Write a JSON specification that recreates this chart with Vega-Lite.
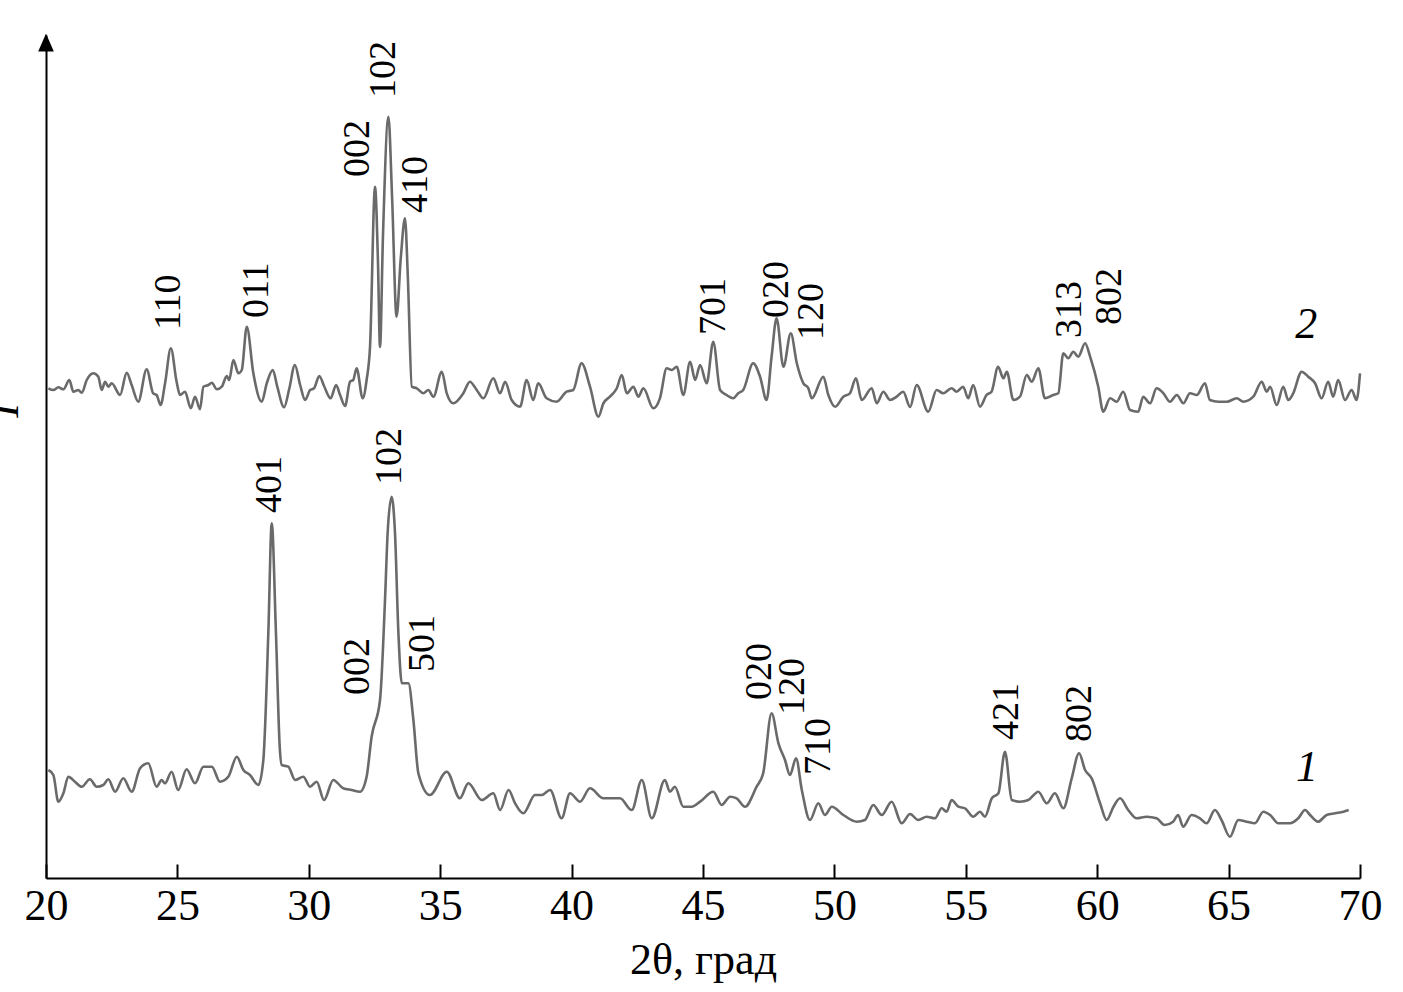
{
  "$schema": "https://vega.github.io/schema/vega-lite/v6.json",
  "width": 1314,
  "height": 843,
  "autosize": {"type": "none"},
  "padding": {"left": 46, "top": 35, "right": 43, "bottom": 114},
  "background": "white",
  "config": {
    "view": {"stroke": null},
    "font": "Liberation Serif",
    "axis": {"domainColor": "black", "domainWidth": 2, "grid": false, "labelFont": "Liberation Serif", "titleFont": "Liberation Serif", "labelColor": "black", "titleColor": "black", "titleFontWeight": "normal"}
  },
  "datasets": {
    "curves": [
      {"s":2,"x":20.09,"y":489.7},{"s":2,"x":20.28,"y":488},{"s":2,"x":20.47,"y":490.7},{"s":2,"x":20.66,"y":488.7},{"s":2,"x":20.89,"y":498},{"s":2,"x":21.04,"y":486.3},{"s":2,"x":21.23,"y":488},{"s":2,"x":21.36,"y":485.3},{"s":2,"x":21.55,"y":498},{"s":2,"x":21.8,"y":504.7},{"s":2,"x":21.99,"y":501.3},{"s":2,"x":22.12,"y":488},{"s":2,"x":22.25,"y":496.3},{"s":2,"x":22.37,"y":491.3},{"s":2,"x":22.5,"y":494.7},{"s":2,"x":22.82,"y":483},{"s":2,"x":23.07,"y":505.3},{"s":2,"x":23.26,"y":493},{"s":2,"x":23.51,"y":476.3},{"s":2,"x":23.83,"y":508.7},{"s":2,"x":24.08,"y":484.7},{"s":2,"x":24.21,"y":483},{"s":2,"x":24.36,"y":473},{"s":2,"x":24.53,"y":494.7},{"s":2,"x":24.75,"y":529.7},{"s":2,"x":24.97,"y":496.3},{"s":2,"x":25.1,"y":483},{"s":2,"x":25.29,"y":486.3},{"s":2,"x":25.51,"y":469.7},{"s":2,"x":25.67,"y":481.3},{"s":2,"x":25.86,"y":468.7},{"s":2,"x":25.99,"y":491.3},{"s":2,"x":26.18,"y":493},{"s":2,"x":26.31,"y":495.3},{"s":2,"x":26.5,"y":488.7},{"s":2,"x":26.69,"y":491.3},{"s":2,"x":26.88,"y":502},{"s":2,"x":26.97,"y":498},{"s":2,"x":27.13,"y":518},{"s":2,"x":27.32,"y":504.7},{"s":2,"x":27.45,"y":508},{"s":2,"x":27.64,"y":551.3},{"s":2,"x":27.89,"y":504.7},{"s":2,"x":28.21,"y":476.3},{"s":2,"x":28.4,"y":494.7},{"s":2,"x":28.63,"y":508},{"s":2,"x":28.8,"y":491.3},{"s":2,"x":29.06,"y":470.7},{"s":2,"x":29.26,"y":489.7},{"s":2,"x":29.47,"y":513},{"s":2,"x":29.67,"y":493},{"s":2,"x":29.86,"y":478},{"s":2,"x":30.05,"y":488},{"s":2,"x":30.2,"y":489.7},{"s":2,"x":30.4,"y":502},{"s":2,"x":30.58,"y":492},{"s":2,"x":30.83,"y":479.7},{"s":2,"x":31.04,"y":493},{"s":2,"x":31.19,"y":483},{"s":2,"x":31.38,"y":472},{"s":2,"x":31.57,"y":496.3},{"s":2,"x":31.69,"y":498},{"s":2,"x":31.82,"y":509.7},{"s":2,"x":32.05,"y":479.7},{"s":2,"x":32.2,"y":498},{"s":2,"x":32.33,"y":531.3},{"s":2,"x":32.52,"y":691.3},{"s":2,"x":32.63,"y":618},{"s":2,"x":32.71,"y":531},{"s":2,"x":32.82,"y":640},{"s":2,"x":33.03,"y":761.3},{"s":2,"x":33.17,"y":680},{"s":2,"x":33.34,"y":561.3},{"s":2,"x":33.5,"y":620},{"s":2,"x":33.66,"y":659.7},{"s":2,"x":33.77,"y":600},{"s":2,"x":33.92,"y":491.3},{"s":2,"x":34.11,"y":489.7},{"s":2,"x":34.36,"y":484.7},{"s":2,"x":34.55,"y":488},{"s":2,"x":34.74,"y":481.3},{"s":2,"x":35.06,"y":506.3},{"s":2,"x":35.25,"y":484.7},{"s":2,"x":35.5,"y":474.7},{"s":2,"x":35.88,"y":484.7},{"s":2,"x":36.13,"y":496.3},{"s":2,"x":36.39,"y":488},{"s":2,"x":36.64,"y":479.7},{"s":2,"x":37.02,"y":499.7},{"s":2,"x":37.28,"y":484.7},{"s":2,"x":37.47,"y":496.3},{"s":2,"x":37.72,"y":478},{"s":2,"x":38.04,"y":471.3},{"s":2,"x":38.29,"y":498},{"s":2,"x":38.54,"y":478},{"s":2,"x":38.73,"y":494.7},{"s":2,"x":39.05,"y":479.7},{"s":2,"x":39.43,"y":476.3},{"s":2,"x":39.81,"y":486.3},{"s":2,"x":40.06,"y":488},{"s":2,"x":40.38,"y":514.7},{"s":2,"x":40.7,"y":491.3},{"s":2,"x":41.02,"y":461.3},{"s":2,"x":41.21,"y":474.7},{"s":2,"x":41.46,"y":481.3},{"s":2,"x":41.72,"y":489.7},{"s":2,"x":41.91,"y":503},{"s":2,"x":42.1,"y":484.7},{"s":2,"x":42.35,"y":491.3},{"s":2,"x":42.54,"y":481.3},{"s":2,"x":42.73,"y":489.7},{"s":2,"x":43.11,"y":469.7},{"s":2,"x":43.36,"y":479.7},{"s":2,"x":43.62,"y":509.7},{"s":2,"x":43.81,"y":508},{"s":2,"x":44.0,"y":511.3},{"s":2,"x":44.25,"y":483},{"s":2,"x":44.51,"y":516.3},{"s":2,"x":44.7,"y":498},{"s":2,"x":44.89,"y":513},{"s":2,"x":45.14,"y":494.7},{"s":2,"x":45.39,"y":536.3},{"s":2,"x":45.65,"y":488},{"s":2,"x":45.9,"y":483},{"s":2,"x":46.15,"y":479.7},{"s":2,"x":46.34,"y":484.7},{"s":2,"x":46.53,"y":488},{"s":2,"x":46.91,"y":514.7},{"s":2,"x":47.17,"y":501.3},{"s":2,"x":47.42,"y":478},{"s":2,"x":47.61,"y":521.3},{"s":2,"x":47.8,"y":559.7},{"s":2,"x":48.06,"y":511.3},{"s":2,"x":48.34,"y":544.7},{"s":2,"x":48.57,"y":514.7},{"s":2,"x":48.82,"y":494.7},{"s":2,"x":49.01,"y":489.7},{"s":2,"x":49.14,"y":479.7},{"s":2,"x":49.58,"y":501.3},{"s":2,"x":49.77,"y":483},{"s":2,"x":50.03,"y":471.3},{"s":2,"x":50.34,"y":481.3},{"s":2,"x":50.59,"y":484.7},{"s":2,"x":50.82,"y":499.7},{"s":2,"x":51.04,"y":478},{"s":2,"x":51.42,"y":489.7},{"s":2,"x":51.61,"y":474.7},{"s":2,"x":51.86,"y":486.3},{"s":2,"x":52.12,"y":478},{"s":2,"x":52.37,"y":481.3},{"s":2,"x":52.62,"y":486.3},{"s":2,"x":52.88,"y":471},{"s":2,"x":53.13,"y":493},{"s":2,"x":53.57,"y":466.3},{"s":2,"x":53.89,"y":488},{"s":2,"x":54.14,"y":484.7},{"s":2,"x":54.46,"y":489.7},{"s":2,"x":54.65,"y":486.3},{"s":2,"x":54.9,"y":491.3},{"s":2,"x":55.09,"y":479.7},{"s":2,"x":55.28,"y":493},{"s":2,"x":55.54,"y":471.3},{"s":2,"x":55.79,"y":483},{"s":2,"x":55.98,"y":486.3},{"s":2,"x":56.23,"y":511.3},{"s":2,"x":56.43,"y":499.7},{"s":2,"x":56.56,"y":506.3},{"s":2,"x":56.81,"y":478},{"s":2,"x":57.06,"y":481.3},{"s":2,"x":57.32,"y":503},{"s":2,"x":57.51,"y":496.3},{"s":2,"x":57.76,"y":509.7},{"s":2,"x":58.01,"y":479.7},{"s":2,"x":58.33,"y":483},{"s":2,"x":58.52,"y":484.7},{"s":2,"x":58.71,"y":524.7},{"s":2,"x":58.9,"y":519.7},{"s":2,"x":59.09,"y":526.3},{"s":2,"x":59.28,"y":521.3},{"s":2,"x":59.54,"y":534.7},{"s":2,"x":59.73,"y":521.3},{"s":2,"x":60.04,"y":491.3},{"s":2,"x":60.23,"y":466.3},{"s":2,"x":60.49,"y":479.7},{"s":2,"x":60.74,"y":476.3},{"s":2,"x":60.99,"y":486.3},{"s":2,"x":61.25,"y":468},{"s":2,"x":61.56,"y":466.3},{"s":2,"x":61.75,"y":481.3},{"s":2,"x":62.01,"y":474.7},{"s":2,"x":62.26,"y":489.7},{"s":2,"x":62.52,"y":484.7},{"s":2,"x":62.77,"y":476.3},{"s":2,"x":63.03,"y":483},{"s":2,"x":63.28,"y":474.7},{"s":2,"x":63.53,"y":484.7},{"s":2,"x":63.79,"y":483},{"s":2,"x":64.1,"y":494.7},{"s":2,"x":64.29,"y":478},{"s":2,"x":64.61,"y":476.3},{"s":2,"x":64.93,"y":476.3},{"s":2,"x":65.31,"y":479.7},{"s":2,"x":65.56,"y":476.3},{"s":2,"x":65.94,"y":481.3},{"s":2,"x":66.26,"y":496.3},{"s":2,"x":66.45,"y":486.3},{"s":2,"x":66.58,"y":491.3},{"s":2,"x":66.83,"y":473},{"s":2,"x":67.08,"y":491.3},{"s":2,"x":67.27,"y":478},{"s":2,"x":67.46,"y":484.7},{"s":2,"x":67.78,"y":506.3},{"s":2,"x":68.03,"y":501.3},{"s":2,"x":68.29,"y":494.7},{"s":2,"x":68.54,"y":479.7},{"s":2,"x":68.79,"y":496.3},{"s":2,"x":68.98,"y":481.3},{"s":2,"x":69.17,"y":498},{"s":2,"x":69.43,"y":478},{"s":2,"x":69.68,"y":488},{"s":2,"x":69.87,"y":478},{"s":2,"x":70.0,"y":504.7},
      {"s":1,"x":20.09,"y":108},{"s":1,"x":20.28,"y":103},{"s":1,"x":20.47,"y":76.3},{"s":1,"x":20.66,"y":84.7},{"s":1,"x":20.85,"y":101.3},{"s":1,"x":21.1,"y":96.3},{"s":1,"x":21.36,"y":91.3},{"s":1,"x":21.67,"y":98.7},{"s":1,"x":21.93,"y":91.3},{"s":1,"x":22.18,"y":93},{"s":1,"x":22.37,"y":98.7},{"s":1,"x":22.63,"y":86.3},{"s":1,"x":22.94,"y":99.7},{"s":1,"x":23.26,"y":86.3},{"s":1,"x":23.58,"y":109.7},{"s":1,"x":23.89,"y":114.7},{"s":1,"x":24.21,"y":91.3},{"s":1,"x":24.4,"y":98},{"s":1,"x":24.53,"y":94.7},{"s":1,"x":24.78,"y":106.3},{"s":1,"x":25.03,"y":88},{"s":1,"x":25.35,"y":108.7},{"s":1,"x":25.67,"y":94.7},{"s":1,"x":25.99,"y":111.3},{"s":1,"x":26.31,"y":111.3},{"s":1,"x":26.62,"y":96.3},{"s":1,"x":26.94,"y":101.3},{"s":1,"x":27.26,"y":121.3},{"s":1,"x":27.51,"y":108},{"s":1,"x":27.76,"y":103},{"s":1,"x":28.08,"y":93},{"s":1,"x":28.27,"y":118},{"s":1,"x":28.46,"y":245},{"s":1,"x":28.59,"y":354.7},{"s":1,"x":28.75,"y":245},{"s":1,"x":28.9,"y":128},{"s":1,"x":28.97,"y":113},{"s":1,"x":29.22,"y":111.3},{"s":1,"x":29.48,"y":98},{"s":1,"x":29.79,"y":101.3},{"s":1,"x":30.05,"y":91.3},{"s":1,"x":30.3,"y":96.3},{"s":1,"x":30.58,"y":78},{"s":1,"x":30.93,"y":98},{"s":1,"x":31.31,"y":89.7},{"s":1,"x":31.63,"y":88},{"s":1,"x":31.95,"y":86.3},{"s":1,"x":32.2,"y":101.3},{"s":1,"x":32.39,"y":141.3},{"s":1,"x":32.71,"y":178},{"s":1,"x":32.9,"y":278},{"s":1,"x":33.0,"y":345},{"s":1,"x":33.15,"y":381.3},{"s":1,"x":33.28,"y":345},{"s":1,"x":33.41,"y":244.7},{"s":1,"x":33.54,"y":194.7},{"s":1,"x":33.79,"y":194.7},{"s":1,"x":33.98,"y":158},{"s":1,"x":34.17,"y":104.7},{"s":1,"x":34.61,"y":83},{"s":1,"x":35.25,"y":106.3},{"s":1,"x":35.75,"y":79.7},{"s":1,"x":36.07,"y":94.7},{"s":1,"x":36.58,"y":78},{"s":1,"x":37.02,"y":84.7},{"s":1,"x":37.28,"y":68},{"s":1,"x":37.6,"y":88},{"s":1,"x":37.85,"y":74.7},{"s":1,"x":38.16,"y":64.7},{"s":1,"x":38.61,"y":83},{"s":1,"x":38.86,"y":83},{"s":1,"x":39.18,"y":88},{"s":1,"x":39.62,"y":59.7},{"s":1,"x":39.94,"y":84.7},{"s":1,"x":40.32,"y":76.3},{"s":1,"x":40.7,"y":89.7},{"s":1,"x":41.21,"y":79.7},{"s":1,"x":41.84,"y":79.7},{"s":1,"x":42.29,"y":68},{"s":1,"x":42.67,"y":98},{"s":1,"x":43.05,"y":59.7},{"s":1,"x":43.55,"y":98},{"s":1,"x":43.74,"y":86.3},{"s":1,"x":43.93,"y":91.3},{"s":1,"x":44.25,"y":71.3},{"s":1,"x":44.57,"y":71.3},{"s":1,"x":44.89,"y":76.3},{"s":1,"x":45.39,"y":86.3},{"s":1,"x":45.71,"y":73},{"s":1,"x":46.03,"y":81.3},{"s":1,"x":46.28,"y":79.7},{"s":1,"x":46.6,"y":71.3},{"s":1,"x":47.04,"y":91.3},{"s":1,"x":47.29,"y":104.7},{"s":1,"x":47.61,"y":164.7},{"s":1,"x":47.87,"y":134.7},{"s":1,"x":48.12,"y":118},{"s":1,"x":48.31,"y":103},{"s":1,"x":48.54,"y":119.7},{"s":1,"x":48.76,"y":88},{"s":1,"x":49.07,"y":58},{"s":1,"x":49.39,"y":74.7},{"s":1,"x":49.64,"y":63},{"s":1,"x":49.9,"y":71.3},{"s":1,"x":50.34,"y":63},{"s":1,"x":50.85,"y":56.3},{"s":1,"x":51.16,"y":58},{"s":1,"x":51.48,"y":73},{"s":1,"x":51.8,"y":63},{"s":1,"x":52.18,"y":76.3},{"s":1,"x":52.56,"y":54.7},{"s":1,"x":52.88,"y":64},{"s":1,"x":53.19,"y":58},{"s":1,"x":53.51,"y":61.3},{"s":1,"x":53.83,"y":59.7},{"s":1,"x":54.08,"y":69.7},{"s":1,"x":54.27,"y":66.3},{"s":1,"x":54.46,"y":78},{"s":1,"x":54.72,"y":71.3},{"s":1,"x":54.97,"y":69.7},{"s":1,"x":55.29,"y":61.3},{"s":1,"x":55.54,"y":66.3},{"s":1,"x":55.73,"y":61.3},{"s":1,"x":55.99,"y":79.7},{"s":1,"x":56.24,"y":84.7},{"s":1,"x":56.49,"y":126.3},{"s":1,"x":56.75,"y":78},{"s":1,"x":57.06,"y":76.3},{"s":1,"x":57.38,"y":78},{"s":1,"x":57.76,"y":86.3},{"s":1,"x":58.08,"y":74.7},{"s":1,"x":58.39,"y":84.7},{"s":1,"x":58.71,"y":69.7},{"s":1,"x":59.03,"y":99.7},{"s":1,"x":59.31,"y":124.7},{"s":1,"x":59.54,"y":108},{"s":1,"x":59.79,"y":99.7},{"s":1,"x":60.11,"y":74.7},{"s":1,"x":60.36,"y":58},{"s":1,"x":60.62,"y":71.3},{"s":1,"x":60.87,"y":79.7},{"s":1,"x":61.18,"y":68},{"s":1,"x":61.5,"y":59.7},{"s":1,"x":61.88,"y":61.3},{"s":1,"x":62.26,"y":59.7},{"s":1,"x":62.57,"y":53},{"s":1,"x":62.89,"y":56.3},{"s":1,"x":63.08,"y":63},{"s":1,"x":63.27,"y":51.3},{"s":1,"x":63.59,"y":63},{"s":1,"x":63.91,"y":59.7},{"s":1,"x":64.16,"y":54.7},{"s":1,"x":64.48,"y":68},{"s":1,"x":64.73,"y":58},{"s":1,"x":65.05,"y":41.3},{"s":1,"x":65.37,"y":58},{"s":1,"x":65.69,"y":56.3},{"s":1,"x":66.0,"y":54.7},{"s":1,"x":66.32,"y":66.3},{"s":1,"x":66.58,"y":63},{"s":1,"x":66.89,"y":54.7},{"s":1,"x":67.34,"y":54.7},{"s":1,"x":67.65,"y":59.7},{"s":1,"x":67.91,"y":68},{"s":1,"x":68.1,"y":63},{"s":1,"x":68.4,"y":56.3},{"s":1,"x":68.73,"y":63},{"s":1,"x":69.05,"y":64.7},{"s":1,"x":69.37,"y":66.3},{"s":1,"x":69.57,"y":68}
    ],
    "peaks": [
      {"x":24.68,"y":548,"t":"110"},{"x":28.03,"y":560,"t":"011"},{"x":31.87,"y":701,"t":"002"},{"x":32.86,"y":780,"t":"102"},{"x":34.08,"y":665,"t":"410"},{"x":45.42,"y":543,"t":"701"},{"x":47.82,"y":560,"t":"020"},{"x":49.15,"y":538,"t":"120"},{"x":58.96,"y":540,"t":"313"},{"x":60.49,"y":553,"t":"802"},
      {"x":28.52,"y":365,"t":"401"},{"x":33.09,"y":393,"t":"102"},{"x":31.87,"y":183,"t":"002"},{"x":34.35,"y":206,"t":"501"},{"x":47.17,"y":178,"t":"020"},{"x":48.43,"y":163,"t":"120"},{"x":49.41,"y":103,"t":"710"},{"x":56.57,"y":138,"t":"421"},{"x":59.35,"y":136,"t":"802"}
    ],
    "names": [
      {"x":67.95,"y":553,"t":"2"},{"x":67.98,"y":110,"t":"1"}
    ]
  },
  "layer": [
    {
      "data": {"name": "curves"},
      "mark": {"type": "line", "color": "#6a6a6a", "strokeWidth": 2.6, "interpolate": "monotone"},
      "encoding": {
        "x": {"field": "x", "type": "quantitative", "scale": {"domain": [20, 70], "nice": false, "zero": false},
          "axis": {"values": [20,25,30,35,40,45,50,55,60,65,70], "title": "2θ, град", "titleFontSize": 44, "labelFontSize": 44, "tickSize": -14, "tickWidth": 2, "tickColor": "black", "labelPadding": 20, "titlePadding": 10, "labelFlush": false}},
        "y": {"field": "y", "type": "quantitative", "scale": {"domain": [0, 843], "nice": false, "zero": false},
          "axis": {"ticks": false, "labels": false, "title": "I", "titleFontSize": 44, "titleFontStyle": "italic", "titleX": -29, "titleY": 375, "titleAngle": -90, "titleAlign": "center", "titleBaseline": "alphabetic"}},
        "detail": {"field": "s"}
      }
    },
    {
      "data": {"values": [{"a": 1}]},
      "mark": {"type": "point", "shape": "M0,-1L0.87,1L-0.87,1Z", "filled": true, "color": "black", "opacity": 1, "size": 324},
      "encoding": {"x": {"datum": 20}, "y": {"datum": 835.5}}
    },
    {
      "data": {"name": "peaks"},
      "mark": {"type": "text", "angle": 270, "align": "left", "baseline": "middle", "fontSize": 38, "font": "Liberation Serif", "color": "black"},
      "encoding": {"x": {"field": "x", "type": "quantitative"}, "y": {"field": "y", "type": "quantitative"}, "text": {"field": "t"}}
    },
    {
      "data": {"name": "names"},
      "mark": {"type": "text", "align": "center", "baseline": "middle", "fontSize": 44, "fontStyle": "italic", "font": "Liberation Serif", "color": "black"},
      "encoding": {"x": {"field": "x", "type": "quantitative"}, "y": {"field": "y", "type": "quantitative"}, "text": {"field": "t"}}
    }
  ]
}
